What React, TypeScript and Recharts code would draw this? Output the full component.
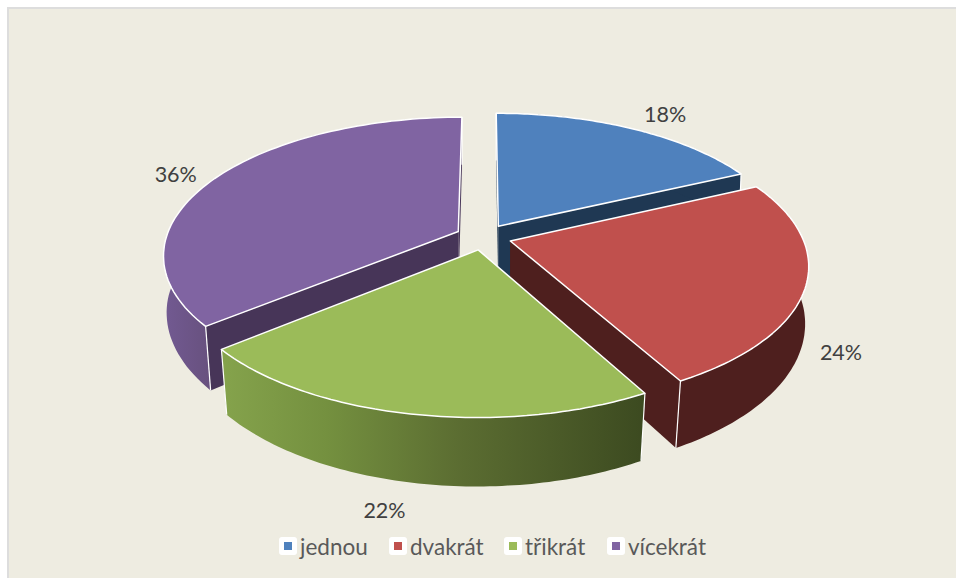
import { PieChart, Pie, Legend } from 'recharts';

const categories = ['jednou', 'dvakrát', 'třikrát', 'vícekrát'];
const percents = [18, 24, 22, 36];
const topColors = ['#4F81BD', '#C0504D', '#9BBB59', '#8064A2'];
const innerWallColors = ['#1F3853', '#4E1F1E', '#3E4C22', '#473558'];
const outerWallColors = ['#1F3853', '#4E1F1E', 'url(#greenWall)', 'url(#purpleWall)'];
const labelNudges = [[33, -15], [35, 67], [-26, 96], [-39, -5]];

// purple has to be painted before the others, so the pie starts with it
const drawOrder = [3, 0, 1, 2];
const pieData = drawOrder.map((i) => ({ name: categories[i], value: percents[i], fill: topColors[i] }));
const startAngle = 90 + percents[3] * 3.6;

const SQUASH = 135 / 292;
const PERSPECTIVE = 0.166;
const EXPLODE = 0.096;

const rad = (d: number) => (d * Math.PI) / 180;

// a point of the tilted disc: a is the recharts angle, rho the share of the radius
function project(cx: number, cy: number, r: number, mid: number, a: number, rho: number, bottom = false) {
  const X = EXPLODE * Math.cos(rad(mid)) + rho * Math.cos(rad(a));
  const Y = EXPLODE * Math.sin(rad(mid)) + rho * Math.sin(rad(a));
  const s = 1 / (1 + PERSPECTIVE * Y);
  const x = r * X * s;
  const y = -r * SQUASH * Y * s;
  if (!bottom) return [cx + x, cy + y];
  // the lower rim pulls in more towards the front
  const inset = 0.0075 + 0.0175 * Math.max(0, -Y);
  return [cx + x * (1 - inset), cy + y + 58 - 10 * Y];
}

const toPath = (pts: number[][]) =>
  pts.map((p, i) => `${i ? 'L' : 'M'}${p[0].toFixed(1)} ${p[1].toFixed(1)}`).join(' ') + ' Z';

const Slice3D = (props: any) => {
  const { cx, cy, outerRadius: r, startAngle: a0, endAngle: a1, name } = props;
  const i = categories.indexOf(name);
  const mid = (a0 + a1) / 2;
  const arcAngles: number[] = [];
  for (let k = 0; k <= 80; k++) arcAngles.push(a0 + ((a1 - a0) * k) / 80);

  const top = (a: number, rho = 1) => project(cx, cy, r, mid, a, rho);
  const bot = (a: number, rho = 1) => project(cx, cy, r, mid, a, rho, true);

  const topArc = arcAngles.map((a) => top(a));
  const botArc = arcAngles.map((a) => bot(a));
  const apex = top(a0, 0);
  const apexBot = bot(a0, 0);
  const wall = (a: number) => toPath([apex, top(a), bot(a), apexBot]);
  const corner = (a: number) => {
    const p = top(a);
    const q = bot(a);
    return <line x1={p[0]} y1={p[1]} x2={q[0]} y2={q[1]} stroke="#fff" strokeWidth={1.2} />;
  };

  return (
    <g>
      <path d={wall(a0)} fill={innerWallColors[i]} />
      <path d={wall(a1)} fill={innerWallColors[i]} />
      <path d={toPath([...topArc, ...[...botArc].reverse()])} fill={outerWallColors[i]} />
      {corner(a0)}
      {corner(a1)}
      <path d={toPath([apex, ...topArc])} fill={topColors[i]} stroke="#fff" strokeWidth={1.5} strokeLinejoin="round" />
    </g>
  );
};

const renderPercent = (props: any) => {
  const { cx, cy, outerRadius, midAngle, name, value } = props;
  const i = categories.indexOf(name);
  const p = project(cx, cy, outerRadius, midAngle, midAngle, 1);
  return (
    <text
      x={p[0] + labelNudges[i][0]}
      y={p[1] + labelNudges[i][1]}
      textAnchor="middle"
      dominantBaseline="central"
      fill="#404040"
      fontSize={21.5}
      fontFamily="Lato"
    >
      {value}%
    </text>
  );
};

const LegendRow = () => (
  <div style={{ position: 'relative', height: 20, fontFamily: 'Lato', fontSize: 22.5, color: '#595959' }}>
    {categories.map((c, i) => (
      <div
        key={c}
        style={{ position: 'absolute', left: [0, 110, 225, 328][i], top: 0, display: 'flex', alignItems: 'center', height: 20 }}
      >
        <span
          style={{
            width: 18,
            height: 18,
            background: '#fff',
            borderRadius: 3,
            display: 'flex',
            alignItems: 'center',
            justifyContent: 'center',
            marginRight: 3,
          }}
        >
          <span style={{ width: 8, height: 8, background: topColors[i] }} />
        </span>
        {c}
      </div>
    ))}
  </div>
);

export default function App() {
  return (
    <div style={{ position: 'absolute', left: 0, top: 0, width: 956, height: 578, background: '#fff', overflow: 'hidden' }}>
      <div
        style={{
          position: 'absolute',
          left: 7,
          top: 7,
          width: 949,
          height: 571,
          boxSizing: 'border-box',
          background: '#EEECE1',
          borderLeft: '2px solid #DDDDDD',
          borderTop: '2px solid #DDDDDD',
        }}
      />
      <div style={{ position: 'absolute', left: 0, top: 0 }}>
        <PieChart width={956} height={578} margin={{ top: 0, right: 0, bottom: 0, left: 0 }}>
          <defs>
            <linearGradient id="greenWall" x1="0" y1="0" x2="1" y2="0">
              <stop offset="0%" stopColor="#85A34C" />
              <stop offset="25%" stopColor="#74903F" />
              <stop offset="55%" stopColor="#5C6E32" />
              <stop offset="100%" stopColor="#3C4A20" />
            </linearGradient>
            <linearGradient id="purpleWall" x1="0" y1="0" x2="1" y2="0">
              <stop offset="0%" stopColor="#725A92" />
              <stop offset="15%" stopColor="#68517F" />
              <stop offset="100%" stopColor="#473558" />
            </linearGradient>
          </defs>
          <Pie
            data={pieData}
            dataKey="value"
            nameKey="name"
            cx={483.5}
            cy={237}
            outerRadius={292}
            startAngle={startAngle}
            endAngle={startAngle - 360}
            shape={Slice3D}
            label={renderPercent}
            labelLine={false}
            isAnimationActive={false}
          />
          <Legend
            content={<LegendRow />}
            wrapperStyle={{ position: 'absolute', left: 279, top: 536, width: 460, bottom: 'auto' }}
          />
        </PieChart>
      </div>
    </div>
  );
}
